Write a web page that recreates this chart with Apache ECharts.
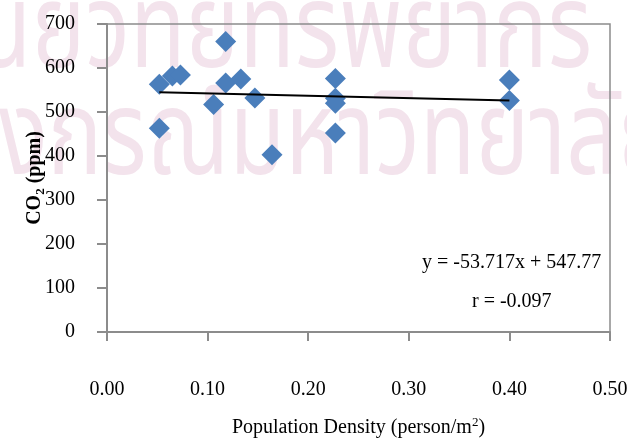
<!DOCTYPE html>
<html>
<head>
<meta charset="utf-8">
<script src="https://cdn.jsdelivr.net/npm/echarts@6/dist/echarts.min.js"></script>
<style>
  html, body { margin: 0; padding: 0; background: #ffffff; }
  #chart { width: 627px; height: 438px; }
</style>
</head>
<body>
<div id="chart"></div>
<script>
// Population density (person/m²) and measured CO2 (ppm)
const density = [0.052, 0.052, 0.065, 0.073, 0.106, 0.118, 0.118, 0.133, 0.147, 0.164, 0.227, 0.227, 0.227, 0.227, 0.400, 0.400];
const co2 = [563, 463, 582, 584, 517, 660, 566, 575, 532, 403, 576, 531, 520, 452, 573, 526];

// Linear fit stated on the chart
const slope = -53.717;
const intercept = 547.77;
const equationText = 'y = -53.717x + 547.77';
const rText = 'r = -0.097';

const xTicks = [0, 0.1, 0.2, 0.3, 0.4, 0.5];
const yTicks = [0, 100, 200, 300, 400, 500, 600, 700];

// Background stamp text
const stampLine1 = 'ศูนย์วิทยทรัพยากร';
const stampLine2 = 'จุฬาลงกรณ์มหาวิทยาลัย';

const points = density.map((d, i) => [d, co2[i]]);
const xMin = Math.min(...density);
const xMax = Math.max(...density);
const fitLine = [[xMin, slope * xMin + intercept], [xMax, slope * xMax + intercept]];

const serif = "'Liberation Serif', 'Times New Roman', serif";
const thaiFont = "'Noto Sans Thai', 'Noto Serif Thai', 'Loma', 'Garuda', 'Norasi', sans-serif";
const axisGray = '#8c8c8c';
const stampPink = '#f3e3ec';

const chart = echarts.init(document.getElementById('chart'), null, { renderer: 'canvas' });

chart.setOption({
  backgroundColor: '#ffffff',
  animation: false,
  graphic: [
    { type: 'text', z: -10, x: 592, y: 43, scaleX: 0.77, originX: 0,
      style: { text: stampLine1, x: 0, y: 0, textAlign: 'right', verticalAlign: 'middle',
        font: '118px ' + thaiFont, fill: stampPink } },
    { type: 'text', z: -10, x: 672, y: 150, scaleX: 0.77, originX: 0,
      style: { text: stampLine2, x: 0, y: 0, textAlign: 'right', verticalAlign: 'middle',
        font: '118px ' + thaiFont, fill: stampPink } },
    { type: 'text', z: 10, left: 422, top: 253, style: { text: equationText, font: '20px ' + serif, fill: '#000' } },
    { type: 'text', z: 10, left: 472, top: 292, style: { text: rText, font: '20px ' + serif, fill: '#000' } }
  ],
  grid: {
    left: 107, right: 17, top: 24, bottom: 106,
    containLabel: false, outerBoundsMode: 'none',
    show: true, borderColor: axisGray, borderWidth: 1.5, backgroundColor: 'transparent'
  },
  xAxis: {
    type: 'value', min: 0, max: 0.5, interval: 0.1,
    axisLine: { show: true, lineStyle: { color: axisGray, width: 2 } },
    axisTick: { show: true, inside: false, length: 9, lineStyle: { color: axisGray, width: 2 } },
    splitLine: { show: false },
    axisLabel: { margin: 48, fontFamily: serif, fontSize: 20, color: '#000',
      formatter: v => (xTicks.includes(Math.round(v * 10) / 10) ? v.toFixed(2) : '') },
    name: '{a|Population Density (person/m}{sup|2}{a|)}',
    nameLocation: 'middle', nameGap: 84, nameMoveOverlap: false,
    nameTextStyle: {
      rich: {
        a: { fontFamily: serif, fontSize: 20, color: '#000', lineHeight: 22, verticalAlign: 'bottom' },
        sup: { fontFamily: serif, fontSize: 13, color: '#000', lineHeight: 22, verticalAlign: 'top' }
      }
    }
  },
  yAxis: {
    type: 'value', min: 0, max: 700, interval: 100,
    axisLine: { show: true, lineStyle: { color: axisGray, width: 2 } },
    axisTick: { show: true, inside: false, length: 10, lineStyle: { color: axisGray, width: 2 } },
    splitLine: { show: false },
    axisLabel: { margin: 32, fontFamily: serif, fontSize: 20, color: '#000',
      formatter: v => (yTicks.includes(v) ? String(v) : '') },
    name: '{a|CO}{sub|2}{a| (ppm)}',
    nameLocation: 'middle', nameGap: 60, nameMoveOverlap: false,
    nameTextStyle: {
      rich: {
        a: { fontFamily: serif, fontSize: 20, fontWeight: 'bold', color: '#000', lineHeight: 22, verticalAlign: 'top' },
        sub: { fontFamily: serif, fontSize: 13, fontWeight: 'bold', color: '#000', lineHeight: 22, verticalAlign: 'bottom' }
      }
    }
  },
  series: [
    {
      type: 'scatter', data: points, symbol: 'diamond', symbolSize: 21,
      itemStyle: { color: '#4a7ebb', opacity: 1 }, z: 3
    },
    {
      type: 'line', data: fitLine, symbol: 'none', showSymbol: false,
      lineStyle: { color: '#000', width: 2 }, z: 4
    }
  ]
});
</script>
</body>
</html>
